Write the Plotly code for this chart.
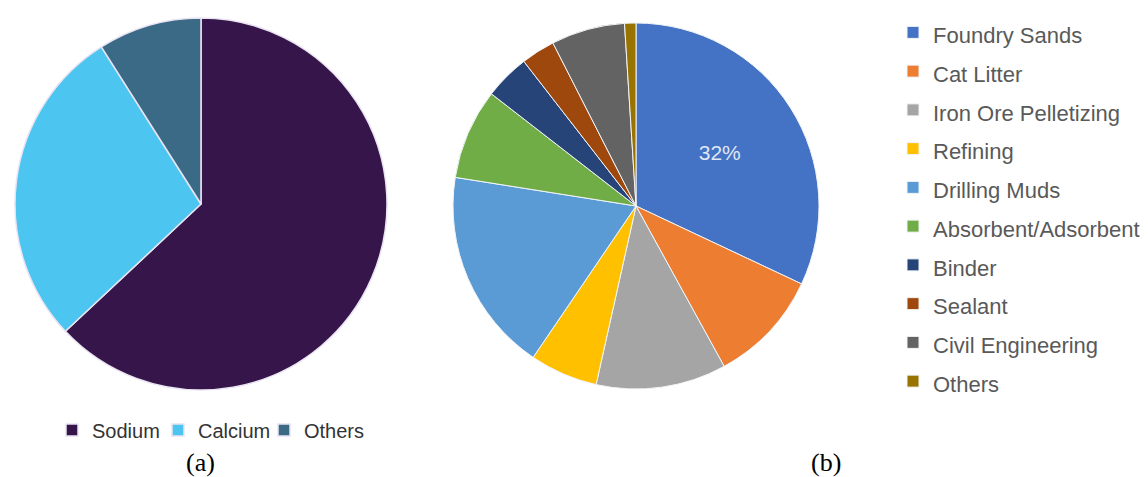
import plotly.graph_objects as go

# (a) chart
cats_a = ["Sodium", "Calcium", "Others"]
vals_a = [63, 28, 9]
colors_a = ["#36154a", "#4cc6f0", "#3b6a87"]

# (b) chart
cats_b = ["Foundry Sands", "Cat Litter", "Iron Ore Pelletizing", "Refining",
          "Drilling Muds", "Absorbent/Adsorbent", "Binder", "Sealant",
          "Civil Engineering", "Others"]
vals_b = [32, 10, 11.5, 6, 18, 8, 4, 3, 6.5, 1]
colors_b = ["#4472c4", "#ed7d31", "#a5a5a5", "#ffc000", "#5b9bd5",
            "#70ad47", "#264478", "#9e480e", "#636363", "#997300"]
shown_label = ["Foundry Sands"]

# page body has an 8px margin; work in reference pixel coordinates
OX, OY = 8, 8
W, H = 1148 - OX, 477 - OY

def px(x):
    return (x - OX) / W

def py(y):
    return 1 - (y - OY) / H

def dom(cx, cy, r):
    return dict(x=[px(cx - r), px(cx + r)], y=[py(cy + r), py(cy - r)])

labels_b = [f"<span style='font-size:22px'>{c}</span>" for c in cats_b]
tmpl_b = ["%{percent:.0%}" if c in shown_label else "" for c in cats_b]

fig = go.Figure()
fig.add_trace(go.Pie(
    labels=cats_a, values=vals_a, sort=False, direction="clockwise", rotation=0,
    marker=dict(colors=colors_a, line=dict(color="#e9e4f2", width=1.5)),
    textinfo="none", domain=dom(201, 204, 186), legend="legend",
    hoverinfo="label+percent",
))
fig.add_trace(go.Pie(
    labels=labels_b, values=vals_b, sort=False, direction="clockwise", rotation=0,
    marker=dict(colors=colors_b, line=dict(color="#f2f4f8", width=1)),
    texttemplate=tmpl_b, textposition="inside", insidetextorientation="horizontal",
    insidetextfont=dict(family="Liberation Sans", size=21, color="#dfe8f5"),
    domain=dom(636, 206, 183), legend="legend2",
    hoverinfo="percent",
))

fig.update_layout(
    width=W, height=H, autosize=False,
    margin=dict(l=0, r=0, t=0, b=0),
    paper_bgcolor="white", plot_bgcolor="white",
    font=dict(family="Liberation Sans"),
    legend=dict(orientation="h", x=px(52), xanchor="left", y=py(430), yanchor="middle",
                entrywidth=61, entrywidthmode="pixels",
                font=dict(size=20, color="#333333", family="Liberation Sans"),
                bgcolor="rgba(0,0,0,0)"),
    legend2=dict(orientation="v", x=px(893), xanchor="left", y=py(207), yanchor="middle",
                 font=dict(size=27.5, color="#595959", family="Liberation Sans"),
                 bgcolor="rgba(0,0,0,0)"),
    annotations=[
        dict(text="(a)", x=px(200), y=py(462), xref="paper", yref="paper",
             xanchor="center", yanchor="middle",
             showarrow=False, font=dict(family="Liberation Serif", size=26, color="black")),
        dict(text="(b)", x=px(826), y=py(462), xref="paper", yref="paper",
             xanchor="center", yanchor="middle",
             showarrow=False, font=dict(family="Liberation Serif", size=26, color="black")),
    ],
)

fig.write_html("out.html")
